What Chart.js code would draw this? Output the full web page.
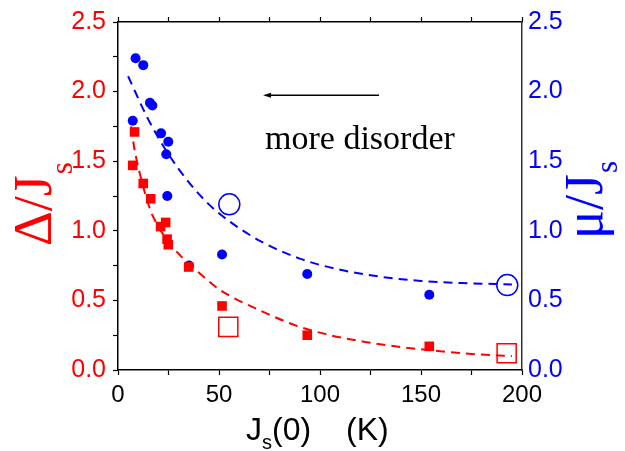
<!DOCTYPE html>
<html>
<head>
<meta charset="utf-8">
<script src="https://cdn.jsdelivr.net/npm/chart.js@4/dist/chart.umd.min.js"></script>
<style>
  html, body { margin: 0; padding: 0; background: #fff; }
  canvas { display: block; }
</style>
</head>
<body>
<canvas id="chart" width="625" height="451"></canvas>
<script>
// measured points, Delta/Js (left axis)
const redX = [7.3, 8.2, 12.5, 16.2, 21.1, 23.6, 24.3, 24.9, 35.0, 51.5, 93.7, 154.1];
const redY = [1.47, 1.71, 1.34, 1.23, 1.03, 1.06, 0.94, 0.90, 0.74, 0.46, 0.25, 0.17];
const redOpenX = [54.6, 192.4];
const redOpenY = [0.31, 0.12];
const redFitX = [6.5, 8, 11, 16, 20, 25, 31, 40, 50, 57, 70, 88, 105, 123, 140, 156, 175, 195];
const redFitY = [1.75, 1.60, 1.40, 1.15, 1.03, 0.92, 0.82, 0.70, 0.58, 0.52, 0.43, 0.32, 0.25, 0.20, 0.165, 0.14, 0.115, 0.10];

// mu/Js (right axis)
const blueX = [7.3, 8.7, 12.5, 15.8, 17.0, 21.3, 24.9, 23.9, 24.4, 35.1, 51.5, 93.7, 154.1];
const blueY = [1.79, 2.24, 2.19, 1.92, 1.90, 1.70, 1.64, 1.55, 1.25, 0.75, 0.83, 0.69, 0.54];
const blueOpenX = [55.1, 192.7];
const blueOpenY = [1.19, 0.61];
const blueFitX = [5, 15, 25, 35, 45, 55, 70, 90, 110, 130, 150, 170, 195];
const blueFitY = [2.11, 1.80, 1.55, 1.35, 1.19, 1.07, 0.93, 0.80, 0.72, 0.67, 0.64, 0.625, 0.615];

const xTickLabels = [0, 50, 100, 150, 200];
const yTickLabels = [0, 0.5, 1, 1.5, 2, 2.5];

const RED = '#ff0000';
const BLUE = '#0000ff';

const pts = (xs, ys) => xs.map((x, i) => ({ x: x, y: ys[i] }));

const titles = {
    id: 'titles',
    afterDraw(chart) {
        const ctx = chart.ctx;
        const xs = chart.scales.x;
        const ys = chart.scales.y;
        ctx.save();
        ctx.textBaseline = 'alphabetic';

        // left title
        ctx.fillStyle = RED;
        ctx.save();
        ctx.translate(51, 246);
        ctx.rotate(-Math.PI / 2);
        ctx.font = '54px "Liberation Serif", serif';
        ctx.fillText('\u0394/J', 0, 0);
        const w1 = ctx.measureText('\u0394/J').width;
        ctx.font = '31px "Liberation Serif", serif';
        ctx.fillText('s', w1 + 1, 21);
        ctx.restore();

        // right title
        ctx.fillStyle = BLUE;
        ctx.save();
        ctx.translate(602, 239);
        ctx.rotate(-Math.PI / 2);
        ctx.font = '54px "Liberation Serif", serif';
        ctx.fillText('\u03bc/J', 0, 0);
        const w2 = ctx.measureText('\u03bc/J').width;
        ctx.font = '31px "Liberation Serif", serif';
        ctx.fillText('s', w2 + 1, 15);
        ctx.restore();

        // bottom title
        ctx.fillStyle = '#000';
        ctx.font = '32px "Liberation Sans", Arial, sans-serif';
        ctx.fillText('J', 246, 440);
        const w = ctx.measureText('J').width;
        ctx.font = '20px "Liberation Sans", Arial, sans-serif';
        ctx.fillText('s', 246 + w, 449);
        const ws = ctx.measureText('s').width;
        ctx.font = '32px "Liberation Sans", Arial, sans-serif';
        ctx.fillText('(0)', 246 + w + ws, 440);
        ctx.fillText('(K)', 346, 440);

        // arrow + note
        const ax1 = xs.getPixelForValue(129.2);
        const ax2 = xs.getPixelForValue(71.8);
        const ay = ys.getPixelForValue(1.974);
        ctx.strokeStyle = '#000';
        ctx.lineWidth = 1.5;
        ctx.beginPath();
        ctx.moveTo(ax1, ay);
        ctx.lineTo(ax2 + 4, ay);
        ctx.stroke();
        ctx.beginPath();
        ctx.moveTo(ax2, ay);
        ctx.lineTo(ax2 + 8, ay - 2.5);
        ctx.lineTo(ax2 + 8, ay + 2.5);
        ctx.closePath();
        ctx.fillStyle = '#000';
        ctx.fill();

        ctx.font = '34px "Liberation Serif", serif';
        ctx.fillText('more disorder', xs.getPixelForValue(72.8), ys.getPixelForValue(1.589));
        ctx.restore();
    }
};

const tickFont = { family: '"Liberation Sans", Arial, sans-serif', size: 25 };
const xSteps = [0, 25, 50, 75, 100, 125, 150, 175, 200];

new Chart(document.getElementById('chart').getContext('2d'), {
    type: 'scatter',
    data: {
        datasets: [
            {
                data: pts(redX, redY), yAxisID: 'y', order: 0,
                pointStyle: 'rect', pointRadius: 6.8, backgroundColor: RED, borderColor: RED, borderWidth: 0
            },
            {
                data: pts(redOpenX, redOpenY), yAxisID: 'y', order: 1,
                pointStyle: 'rect', pointRadius: 13.5, backgroundColor: 'rgba(0,0,0,0)', borderColor: RED, borderWidth: 1.5
            },
            {
                data: pts(redFitX, redFitY), yAxisID: 'y', order: 2, showLine: true,
                pointRadius: 0, borderColor: RED, borderWidth: 2, borderDash: [9, 6], cubicInterpolationMode: 'monotone'
            },
            {
                data: pts(blueX, blueY), yAxisID: 'y2', order: 3,
                pointStyle: 'circle', pointRadius: 5, backgroundColor: BLUE, borderColor: BLUE, borderWidth: 0
            },
            {
                data: pts(blueOpenX, blueOpenY), yAxisID: 'y2', order: 4,
                pointStyle: 'circle', pointRadius: 10.5, backgroundColor: 'rgba(0,0,0,0)', borderColor: BLUE, borderWidth: 1.5
            },
            {
                data: pts(blueFitX, blueFitY), yAxisID: 'y2', order: 5, showLine: true,
                pointRadius: 0, borderColor: BLUE, borderWidth: 2, borderDash: [9, 6], cubicInterpolationMode: 'monotone'
            }
        ]
    },
    options: {
        responsive: false,
        animation: false,
        layout: { padding: 0 },
        plugins: { legend: { display: false }, tooltip: { enabled: false } },
        scales: {
            x: {
                type: 'linear', position: 'bottom', min: 0, max: 200,
                afterFit: s => { s.height = 81; },
                afterBuildTicks: s => { s.ticks = xSteps.map(v => ({ value: v })); },
                border: { display: true, color: '#000', width: 1.5 },
                grid: { drawOnChartArea: false, drawTicks: true, tickLength: 5, color: '#000', tickWidth: 1.2 },
                ticks: {
                    color: '#000', font: { family: tickFont.family, size: 24 }, padding: 6, maxRotation: 0, autoSkip: false,
                    callback: v => xTickLabels.includes(v) ? String(v) : ''
                }
            },
            xTop: {
                type: 'linear', position: 'top', min: 0, max: 200,
                afterFit: s => { s.height = 16; },
                afterBuildTicks: s => { s.ticks = xSteps.map(v => ({ value: v })); },
                border: { display: true, color: '#000', width: 1.5 },
                grid: { drawOnChartArea: false, drawTicks: true, tickLength: 5, color: '#000', tickWidth: 1.2 },
                ticks: { display: true, callback: () => '', font: { size: 1 }, padding: 0 }
            },
            y: {
                type: 'linear', position: 'left', min: 0, max: 2.5,
                afterFit: s => { s.width = 118; },
                afterBuildTicks: s => { s.ticks = [0, 0.25, 0.5, 0.75, 1, 1.25, 1.5, 1.75, 2, 2.25, 2.5].map(v => ({ value: v })); },
                border: { display: true, color: '#000', width: 1.5 },
                grid: { drawOnChartArea: false, drawTicks: true, tickLength: 5, color: '#000', tickWidth: 1.2 },
                ticks: {
                    color: RED, font: tickFont, padding: 7, autoSkip: false,
                    callback: v => yTickLabels.includes(v) ? v.toFixed(1) : ''
                }
            },
            y2: {
                type: 'linear', position: 'right', min: 0, max: 2.5,
                afterFit: s => { s.width = 103; },
                afterBuildTicks: s => { s.ticks = yTickLabels.map(v => ({ value: v })); },
                border: { display: true, color: '#333', width: 1.5 },
                grid: { drawOnChartArea: false, drawTicks: false },
                ticks: {
                    color: BLUE, font: tickFont, padding: 6, autoSkip: false,
                    callback: v => v.toFixed(1)
                }
            }
        }
    },
    plugins: [titles]
});
</script>
</body>
</html>
